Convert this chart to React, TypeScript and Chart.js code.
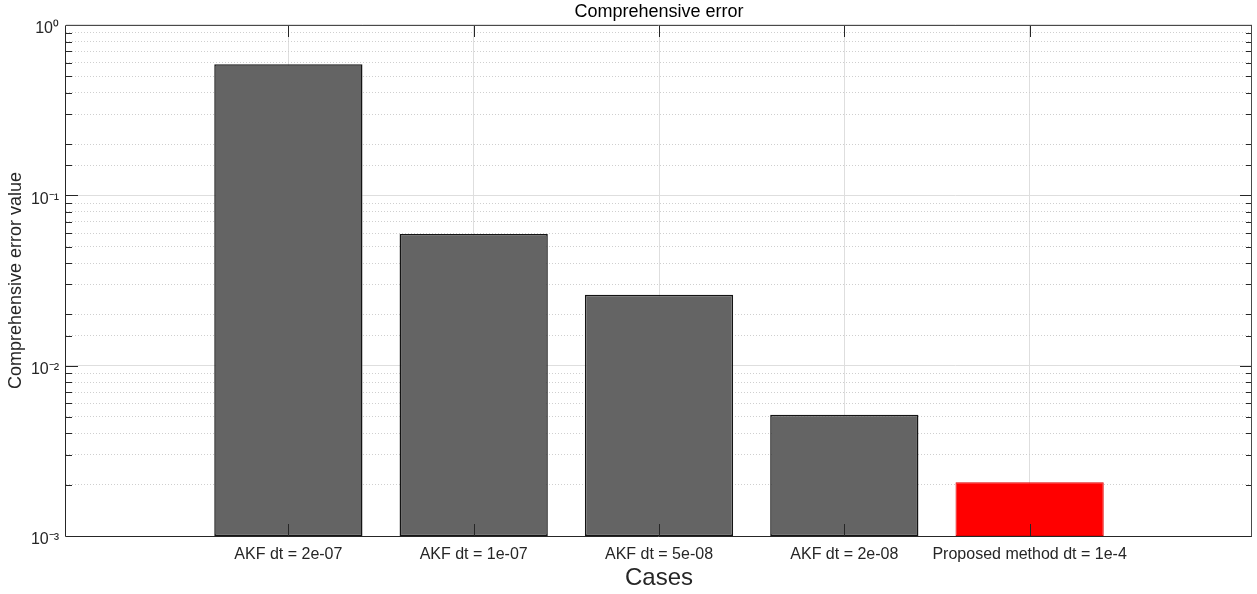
import React, { useEffect, useRef } from 'react';
import { Chart, registerables } from 'chart.js';

Chart.register(...registerables);

// ---- data ----
const categories = [
  'AKF dt = 2e-07',
  'AKF dt = 1e-07',
  'AKF dt = 5e-08',
  'AKF dt = 2e-08',
  'Proposed method dt = 1e-4',
];
const casePositions = [1, 2, 3, 4, 5];
const errorValues = [0.588, 0.0593, 0.0261, 0.00515, 0.00207];
const barColors = ['#646464', '#646464', '#646464', '#646464', '#ff0000'];
const barEdgeColors = ['#141414', '#141414', '#141414', '#141414', '#e00000'];
const barEdgeWidths = [1.5, 1.5, 1.5, 1.5, 1];
const xLimits = [-0.2, 6.2];
const yLimits = [1e-3, 1];

const FONT = '"Liberation Sans", Arial, Helvetica, sans-serif';
const SUP: Record<string, string> = {
  '0': '\u2070', '1': '\u00B9', '2': '\u00B2', '3': '\u00B3', '4': '\u2074',
  '5': '\u2075', '6': '\u2076', '7': '\u2077', '8': '\u2078', '9': '\u2079', '-': '\u207B',
};
const toSup = (n: number) => String(n).split('').map((c) => SUP[c] || c).join('');
const isDecade = (v: number) => {
  const l = Math.log10(v);
  return Math.abs(l - Math.round(l)) < 1e-9;
};

const matlabAxesPlugin = {
  id: 'matlabAxes',
  afterDatasetsDraw(chart: any) {
    const { ctx, chartArea } = chart;
    const { left, right, top, bottom } = chartArea;
    const xs = chart.scales.x;
    const ys = chart.scales.y;
    ctx.save();
    ctx.strokeStyle = '#262626';
    ctx.lineWidth = 1;
    ctx.beginPath();
    xs.ticks.forEach((t: any) => {
      const px = Math.round(xs.getPixelForValue(t.value)) + 0.5;
      ctx.moveTo(px, bottom);
      ctx.lineTo(px, bottom - 12);
      ctx.moveTo(px, top);
      ctx.lineTo(px, top + 12);
    });
    ys.ticks.forEach((t: any) => {
      const py = Math.round(ys.getPixelForValue(t.value)) + 0.5;
      const len = isDecade(t.value) ? 12 : 6;
      ctx.moveTo(left, py);
      ctx.lineTo(left + len, py);
      ctx.moveTo(right, py);
      ctx.lineTo(right - len, py);
    });
    ctx.stroke();
    ctx.beginPath();
    ctx.moveTo(Math.round(left) - 0.5, Math.round(top) + 0.5);
    ctx.lineTo(Math.round(left) - 0.5, Math.round(bottom) + 0.5);
    ctx.lineTo(Math.round(right) - 0.5, Math.round(bottom) + 0.5);
    ctx.stroke();
    ctx.strokeStyle = '#4a4a4a';
    ctx.beginPath();
    ctx.moveTo(Math.round(left) - 0.5, Math.round(top) + 0.5);
    ctx.lineTo(Math.round(right) - 0.5, Math.round(top) + 0.5);
    ctx.lineTo(Math.round(right) - 0.5, Math.round(bottom) + 0.5);
    ctx.stroke();
    ctx.restore();
  },
};

export default function App() {
  const canvasRef = useRef<HTMLCanvasElement | null>(null);

  useEffect(() => {
    if (!canvasRef.current) return;
    const chart = new Chart(canvasRef.current, {
      type: 'bar',
      data: {
        datasets: [
          {
            label: 'Comprehensive error',
            data: casePositions.map((x, i) => ({ x, y: errorValues[i] })),
            backgroundColor: barColors,
            borderColor: barEdgeColors,
            borderWidth: barEdgeWidths,
            borderSkipped: false,
            barPercentage: 1,
            categoryPercentage: 0.8,
          },
        ],
      },
      options: {
        animation: false,
        responsive: false,
        layout: { padding: { left: 0, right: 5, top: 0, bottom: 0 } },
        plugins: {
          legend: { display: false },
          tooltip: { enabled: false },
          title: {
            display: true,
            text: 'Comprehensive error',
            fullSize: false,
            color: '#000000',
            font: { family: FONT, size: 18, weight: 'normal' },
            padding: { top: 0.9, bottom: 2.5 },
          },
        },
        scales: {
          x: {
            type: 'linear',
            min: xLimits[0],
            max: xLimits[1],
            offset: false,
            afterBuildTicks: (scale: any) => {
              scale.ticks = casePositions.map((v) => ({ value: v }));
            },
            afterFit: (scale: any) => {
              scale.height = 58;
            },
            ticks: {
              autoSkip: false,
              maxRotation: 0,
              padding: 9,
              color: '#262626',
              font: { family: FONT, size: 16 },
              callback: (v: any) => categories[Math.round(Number(v)) - 1] ?? '',
            },
            grid: {
              offset: false,
              drawTicks: false,
              color: '#dedede',
              lineWidth: 1,
            },
            border: { display: false },
            title: {
              display: true,
              text: 'Cases',
              color: '#262626',
              font: { family: FONT, size: 24 },
              padding: { top: 0, bottom: 1 },
            },
          },
          y: {
            type: 'logarithmic',
            min: yLimits[0],
            max: yLimits[1],
            afterFit: (scale: any) => {
              scale.width = 66;
            },
            ticks: {
              autoSkip: false,
              padding: 7,
              labelOffset: 4,
              color: '#262626',
              font: { family: FONT, size: 16 },
              callback: (v: any) => {
                const n = Number(v);
                if (!isDecade(n)) return '';
                return '10' + toSup(Math.round(Math.log10(n)));
              },
            },
            grid: {
              drawTicks: false,
              color: (c: any) => (c.tick && isDecade(c.tick.value) ? '#dedede' : '#cfcfcf'),
              lineWidth: 1,
            },
            border: {
              display: false,
              dash: (c: any) => (c.tick && !isDecade(c.tick.value) ? [1, 2] : []),
            },
            title: {
              display: true,
              text: 'Comprehensive error value',
              color: '#262626',
              font: { family: FONT, size: 18 },
              padding: { top: 5, bottom: 0 },
            },
          },
        },
      } as any,
      plugins: [matlabAxesPlugin],
    });
    return () => chart.destroy();
  }, []);

  return (
    <div style={{ position: 'fixed', left: 0, top: 0, width: 1257, height: 594, background: '#ffffff' }}>
      <canvas ref={canvasRef} width={1257} height={594} style={{ display: 'block' }} />
    </div>
  );
}
